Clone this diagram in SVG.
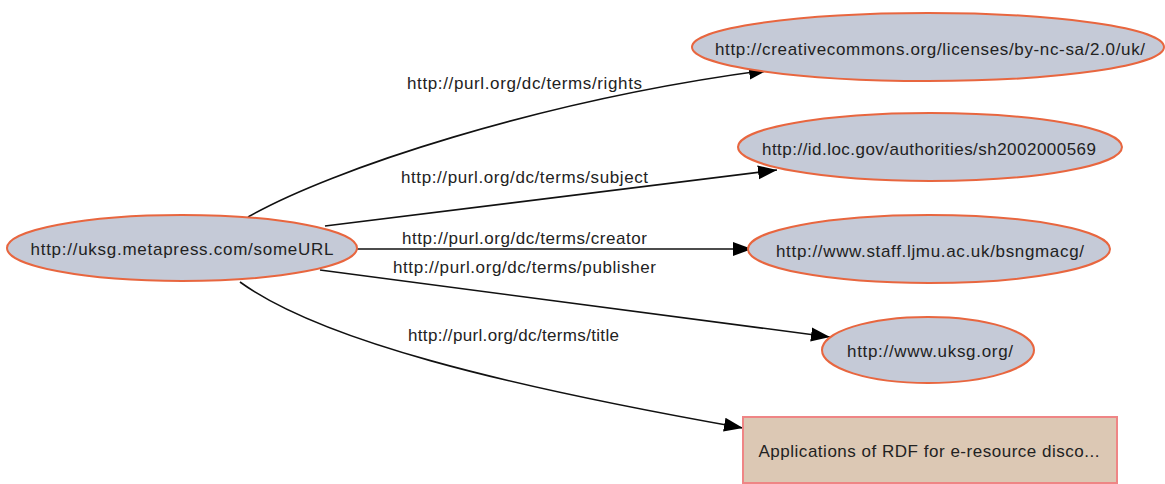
<svg xmlns="http://www.w3.org/2000/svg" width="1165" height="484" viewBox="0 0 1165 484">
<style>
.n{fill:#c5cad7;stroke:#e8663f;stroke-width:2}
.r{fill:#dcc8b4;stroke:#ef8585;stroke-width:2}
.t{font-family:"Liberation Sans",Arial,sans-serif;font-size:17px;fill:#222;text-anchor:middle}
.l{font-family:"Liberation Sans",Arial,sans-serif;font-size:17px;fill:#222}
.e{fill:none;stroke:#111;stroke-width:1.6}
</style>
<defs>
<marker id="arr" markerUnits="userSpaceOnUse" markerWidth="20" markerHeight="16" refX="19" refY="8" orient="auto">
<path d="M0,1 L19,8 L0,15 Z" fill="#000"/>
</marker>
</defs>
<rect width="1165" height="484" fill="#fff"/>
<g id="edges">
<path class="e" d="M248,217 C330,170 540,100 768,70" marker-end="url(#arr)"/>
<path class="e" d="M325,226 L777,170" marker-end="url(#arr)"/>
<path class="e" d="M357,249 L752,249" marker-end="url(#arr)"/>
<path class="e" d="M320,270 L830,337" marker-end="url(#arr)"/>
<path class="e" d="M240,282 C320,340 500,385 743,428" marker-end="url(#arr)"/>
<text class="l" x="407" y="89" textLength="235">http://purl.org/dc/terms/rights</text>
<text class="l" x="401" y="183" textLength="247">http://purl.org/dc/terms/subject</text>
<text class="l" x="402" y="244" textLength="245">http://purl.org/dc/terms/creator</text>
<text class="l" x="393" y="273" textLength="263">http://purl.org/dc/terms/publisher</text>
<text class="l" x="408" y="341" textLength="211">http://purl.org/dc/terms/title</text>
</g>
<g id="main">
<ellipse class="n" cx="182" cy="248" rx="175" ry="33"/>
<text class="t" x="182" y="255" textLength="303">http://uksg.metapress.com/someURL</text>
</g>
<g id="cc">
<ellipse class="n" cx="928" cy="47" rx="236" ry="34"/>
<text class="t" x="930" y="55" textLength="430">http://creativecommons.org/licenses/by-nc-sa/2.0/uk/</text>
</g>
<g id="loc">
<ellipse class="n" cx="930" cy="147" rx="192" ry="34"/>
<text class="t" x="929" y="155" textLength="334">http://id.loc.gov/authorities/sh2002000569</text>
</g>
<g id="staff">
<ellipse class="n" cx="929" cy="249" rx="181" ry="34"/>
<text class="t" x="930" y="257" textLength="308">http://www.staff.ljmu.ac.uk/bsngmacg/</text>
</g>
<g id="uksg">
<ellipse class="n" cx="928" cy="350" rx="106" ry="33"/>
<text class="t" x="930" y="357" textLength="166">http://www.uksg.org/</text>
</g>
<g id="title">
<rect class="r" x="743" y="417" width="374" height="66"/>
<text class="t" x="929" y="457" textLength="341">Applications of RDF for e-resource disco...</text>
</g>
</svg>
